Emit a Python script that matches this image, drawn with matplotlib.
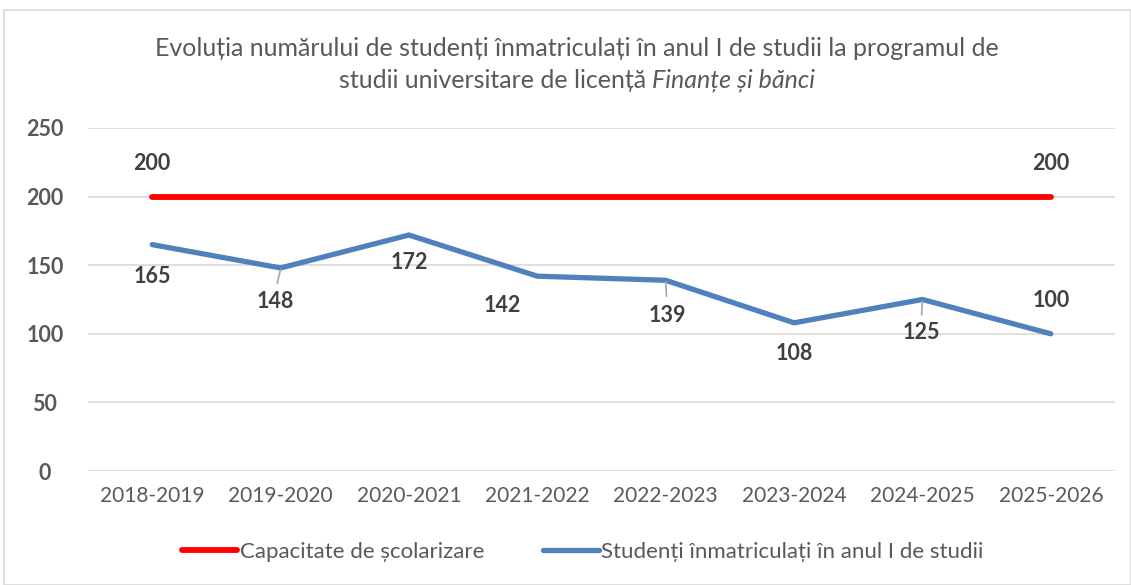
import matplotlib
matplotlib.use("Agg")
import matplotlib.pyplot as plt
from matplotlib.patches import Rectangle

years = ["2018-2019", "2019-2020", "2020-2021", "2021-2022",
         "2022-2023", "2023-2024", "2024-2025", "2025-2026"]
capacity = [200, 200, 200, 200, 200, 200, 200, 200]
students = [165, 148, 172, 142, 139, 108, 125, 100]
yticks = [0, 50, 100, 150, 200, 250]

title_l1 = "Evoluția numărului de studenți înmatriculați în anul I de studii la programul de"
title_l2a = "studii universitare de licență "
title_l2b = "Finanțe și bănci"
leg_cap = "Capacitate de școlarizare"
leg_stu = "Studenți înmatriculați în anul I de studii"

FONT = "Lato"
plt.rcParams['font.family'] = [FONT, 'DejaVu Sans']

fig = plt.figure(figsize=(11.31, 5.85), dpi=100)
ax = fig.add_axes([88/1131, 1-471/585, (1115-88)/1131, (471-128)/585])

# frame
fig.patches.append(Rectangle((4/1131, 0), 1-4/1131, 1-10/585, transform=fig.transFigure,
                             fill=False, edgecolor="#d9d9d9", linewidth=1.2))

x = list(range(len(years)))
ax.plot(x, capacity, color="#ff0000", lw=4.2, solid_capstyle="round", zorder=3,
        label=leg_cap)
ax.plot(x, students, color="#4f81bd", lw=3.8, solid_capstyle="round",
        solid_joinstyle="miter", zorder=3, label=leg_stu)

ax.set_xlim(-0.5, len(years) - 0.5)
ax.set_ylim(0, 250)
ax.set_yticks(yticks)
ax.set_xticks(x)
ax.set_xticklabels(years, fontsize=15, color="#595959")
ax.set_yticklabels([str(v) for v in yticks], fontsize=15.5, fontweight="bold", color="#595959")
ax.tick_params(length=0)
ax.tick_params(axis="x", pad=11)
ax.tick_params(axis="y", pad=31)
for t in ax.get_yticklabels():
    t.set_horizontalalignment("center")
for s in ax.spines.values():
    s.set_visible(False)
ax.grid(axis="y", color="#d9d9d9", lw=1.2)
ax.set_axisbelow(True)

lab = dict(fontsize=15.5, fontweight="bold", color="#404040", ha="center", va="center")
# red labels
for i in (0, len(years) - 1):
    ax.annotate(str(capacity[i]), (x[i], capacity[i]), xytext=(0, 24),
                textcoords="offset points", **lab)

# blue labels: offsets in points (dx, dy), leader flag
offs = [(0, -23, False), (-4, -24, True), (0, -20, False), (-25, -21, False),
        (1, -25, True), (0, -22, False), (-1, -24, True), (0, 24, False)]
for i, (dx, dy, lead) in enumerate(offs):
    ax.annotate(str(students[i]), (x[i], students[i]), xytext=(dx, dy),
                textcoords="offset points", **lab)
    if lead:
        ax.annotate("", (x[i], students[i] - 1), xytext=(dx * 0.6, dy * 0.42),
                    textcoords="offset points",
                    arrowprops=dict(arrowstyle="-", color="#a6a6a6", lw=1.2,
                                    shrinkA=0, shrinkB=0), zorder=4)

TS = 18
fig.text(577/1131, 1-48/585, title_l1, ha="center", va="center", fontsize=TS,
         color="#595959")
fig.canvas.draw()
r = fig.canvas.get_renderer()
ta = fig.text(0, 1-80/585, title_l2a, fontsize=TS, color="#595959", va="center")
tb = fig.text(0, 1-80/585, title_l2b, fontsize=TS, color="#595959", va="center",
              style="italic")
wa = ta.get_window_extent(r).width
wb = tb.get_window_extent(r).width
x0 = 577 - (wa + wb) / 2
ta.set_x(x0 / 1131)
tb.set_x((x0 + wa) / 1131)

leg = fig.legend(loc="center", bbox_to_anchor=(582.5/1131, 1-552/585), ncol=2,
                 frameon=False, fontsize=16, handlelength=2.5, handletextpad=0.1,
                 columnspacing=2.65)
for t in leg.get_texts():
    t.set_color("#595959")

fig.savefig("out.png", dpi=100)
